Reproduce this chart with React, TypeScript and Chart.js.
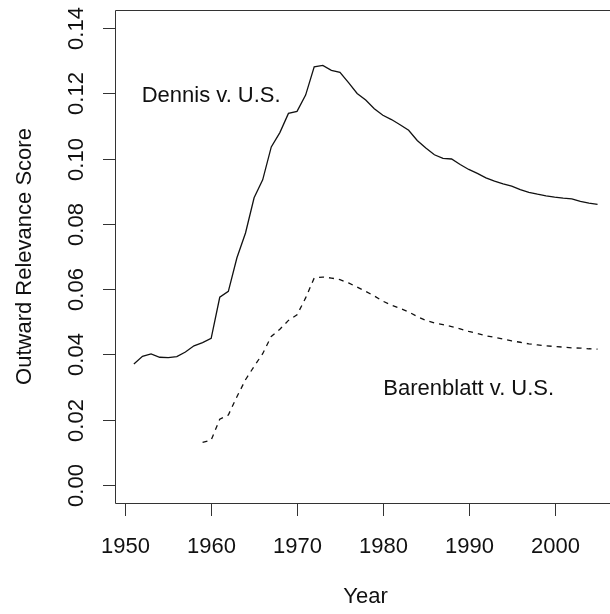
import React, { useEffect, useRef } from "react";
import { Chart, registerables } from "chart.js";

Chart.register(...registerables);

const dennisYears: number[] = [
  1951, 1952, 1953, 1954, 1955, 1956, 1957, 1958, 1959, 1960,
  1961, 1962, 1963, 1964, 1965, 1966, 1967, 1968, 1969, 1970,
  1971, 1972, 1973, 1974, 1975, 1976, 1977, 1978, 1979, 1980,
  1981, 1982, 1983, 1984, 1985, 1986, 1987, 1988, 1989, 1990,
  1991, 1992, 1993, 1994, 1995, 1996, 1997, 1998, 1999, 2000,
  2001, 2002, 2003, 2004, 2005,
];
const dennisValues: number[] = [
  0.0370, 0.0394, 0.0401, 0.0391, 0.0390, 0.0393, 0.0407, 0.0426, 0.0436, 0.0449,
  0.0575, 0.0593, 0.0696, 0.0772, 0.0880, 0.0935, 0.1036, 0.1080, 0.1139, 0.1145,
  0.1195, 0.1282, 0.1286, 0.1271, 0.1265, 0.1233, 0.1200, 0.1180, 0.1153, 0.1133,
  0.1120, 0.1104, 0.1087, 0.1056, 0.1033, 0.1012, 0.1001, 0.0999, 0.0982, 0.0967,
  0.0955, 0.0941, 0.0931, 0.0923, 0.0916, 0.0905, 0.0897, 0.0891, 0.0886, 0.0882,
  0.0879, 0.0877, 0.0869, 0.0864, 0.0860,
];

const barenblattYears: number[] = [
  1959, 1960, 1961, 1962, 1963, 1964, 1965, 1966, 1967, 1968,
  1969, 1970, 1971, 1972, 1973, 1974, 1975, 1976, 1977, 1978,
  1979, 1980, 1981, 1982, 1983, 1984, 1985, 1986, 1987, 1988,
  1989, 1990, 1991, 1992, 1993, 1994, 1995, 1996, 1997, 1998,
  1999, 2000, 2001, 2002, 2003, 2004, 2005,
];
const barenblattValues: number[] = [
  0.0130, 0.0137, 0.0201, 0.0214, 0.0270, 0.0322, 0.0363, 0.0402, 0.0455, 0.0477,
  0.0504, 0.0521, 0.0573, 0.0634, 0.0637, 0.0634, 0.0629, 0.0619, 0.0606, 0.0593,
  0.0579, 0.0563, 0.0551, 0.0541, 0.0530, 0.0516, 0.0504, 0.0496, 0.0491, 0.0485,
  0.0478, 0.0470, 0.0464, 0.0457, 0.0452, 0.0447, 0.0441, 0.0437, 0.0432, 0.0429,
  0.0426, 0.0424, 0.0422, 0.0420, 0.0419, 0.0417, 0.0416,
];

const xTicks: number[] = [1950, 1960, 1970, 1980, 1990, 2000];
const yTicks: number[] = [0, 0.02, 0.04, 0.06, 0.08, 0.1, 0.12, 0.14];
const yTickLabels: string[] = ["0.00", "0.02", "0.04", "0.06", "0.08", "0.10", "0.12", "0.14"];

const xTitle = "Year";
const yTitle = "Outward Relevance Score";

const annotations = [
  { text: "Dennis v. U.S.", x: 1960, y: 0.12 },
  { text: "Barenblatt v. U.S.", x: 1990, y: 0.03 },
];

const FONT = '22px "Liberation Sans", Arial, Helvetica, sans-serif';

const rAxesPlugin = {
  id: "rAxes",
  afterDraw(chart: any) {
    const ctx = chart.ctx as CanvasRenderingContext2D;
    const area = chart.chartArea;
    const xs = chart.scales.x;
    const ys = chart.scales.y;
    ctx.save();
    // box (left, top, bottom; right edge lies beyond the picture)
    ctx.strokeStyle = "#333";
    ctx.lineWidth = 1;
    ctx.beginPath();
    ctx.moveTo(chart.width, area.top + 0.5);
    ctx.lineTo(area.left + 0.5, area.top + 0.5);
    ctx.lineTo(area.left + 0.5, area.bottom + 0.5);
    ctx.lineTo(chart.width, area.bottom + 0.5);
    ctx.stroke();

    ctx.font = FONT;
    ctx.fillStyle = "#111";

    // x ticks
    ctx.textAlign = "center";
    ctx.textBaseline = "alphabetic";
    xTicks.forEach((t) => {
      const px = Math.round(xs.getPixelForValue(t)) + 0.5;
      ctx.beginPath();
      ctx.moveTo(px, area.bottom);
      ctx.lineTo(px, area.bottom + 13);
      ctx.stroke();
      ctx.fillText(String(t), px, area.bottom + 50);
    });

    // y ticks
    yTicks.forEach((t, i) => {
      const py = Math.round(ys.getPixelForValue(t)) + 0.5;
      ctx.beginPath();
      ctx.moveTo(area.left, py);
      ctx.lineTo(area.left - 12, py);
      ctx.stroke();
      ctx.save();
      ctx.translate(area.left - 32, py);
      ctx.rotate(-Math.PI / 2);
      ctx.fillText(yTickLabels[i], 0, 0);
      ctx.restore();
    });

    // axis titles
    const midX = xs.getPixelForValue((xs.min + 2007.16) / 2);
    ctx.fillText(xTitle, midX, area.bottom + 100);
    ctx.save();
    ctx.translate(area.left - 84, (area.top + area.bottom) / 2);
    ctx.rotate(-Math.PI / 2);
    ctx.fillText(yTitle, 0, 0);
    ctx.restore();

    // annotations
    annotations.forEach((a) => {
      ctx.fillText(a.text, xs.getPixelForValue(a.x), ys.getPixelForValue(a.y) + 8.3);
    });
    ctx.restore();
  },
};

export default function App() {
  const ref = useRef<HTMLCanvasElement | null>(null);
  useEffect(() => {
    if (!ref.current) return;
    const chart = new Chart(ref.current, {
      type: "line",
      data: {
        datasets: [
          {
            label: "Dennis v. U.S.",
            data: dennisYears.map((yr, i) => ({ x: yr, y: dennisValues[i] })),
            borderColor: "#111",
            borderWidth: 1.3,
            pointRadius: 0,
            tension: 0,
            fill: false,
          },
          {
            label: "Barenblatt v. U.S.",
            data: barenblattYears.map((yr, i) => ({ x: yr, y: barenblattValues[i] })),
            borderColor: "#111",
            borderWidth: 1.3,
            borderDash: [5, 5],
            pointRadius: 0,
            tension: 0,
            fill: false,
          },
        ],
      },
      options: {
        animation: false,
        responsive: false,
        devicePixelRatio: 1,
        layout: { padding: { left: 115, top: 10, right: 0, bottom: 111 } },
        plugins: { legend: { display: false }, tooltip: { enabled: false } },
        scales: {
          x: { type: "linear", min: 1948.8, max: 2006.45, display: false },
          y: { type: "linear", min: -0.0056, max: 0.1456, display: false },
        },
      },
      plugins: [rAxesPlugin],
    });
    return () => chart.destroy();
  }, []);
  return (
    <div style={{ position: "fixed", left: 0, top: 0, width: 610, height: 614, background: "#fff" }}>
      <canvas ref={ref} width={610} height={614} style={{ display: "block" }} />
    </div>
  );
}
